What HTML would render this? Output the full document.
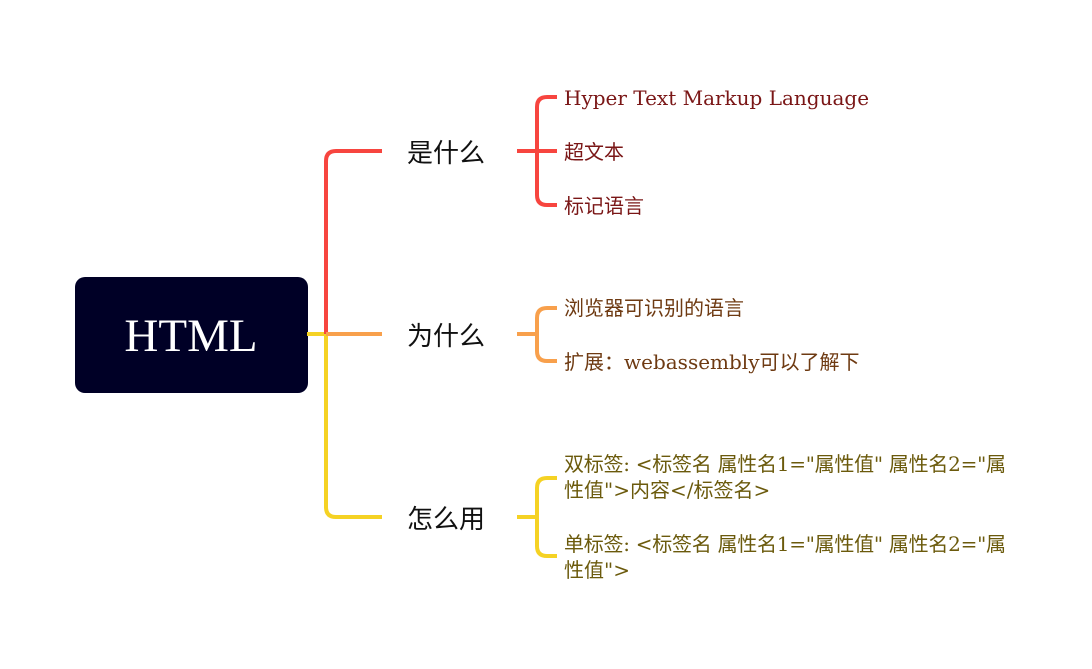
<!DOCTYPE html>
<html><head><meta charset="utf-8"><style>
html,body{margin:0;padding:0;background:#fff;width:1092px;height:669px;overflow:hidden}
</style></head><body>
<svg width="1092" height="669" xmlns="http://www.w3.org/2000/svg" font-family="'DejaVu Serif','Noto Sans CJK SC',serif">
<rect x="75" y="277" width="233" height="116" rx="10" fill="#000026"/>
<text x="191" y="351" text-anchor="middle" font-size="47" font-family="'Liberation Serif',serif" fill="#fff">HTML</text>
<g fill="none" stroke-width="4" stroke-linecap="butt">
<path d="M307 334 H326" stroke="#f5d224"/>
<path d="M382 151 H336 Q326 151 326 161 V334" stroke="#f7453f"/>
<path d="M326 334 V507 Q326 517 336 517 H382" stroke="#f5d224"/>
<path d="M326 334 H382" stroke="#f8a04c"/>
<path d="M517 151 H537 M557 97 H547 Q537 97 537 107 V195 Q537 205 547 205 H557 M537 151 H557" stroke="#f7453f"/>
<path d="M517 334 H537 M557 308 H547 Q537 308 537 318 V351 Q537 361 547 361 H557" stroke="#f8a04c"/>
<path d="M517 517 H537 M557 478 H547 Q537 478 537 488 V546 Q537 556 547 556 H557" stroke="#f5d224"/>
</g>
<g font-family="'Liberation Sans','Noto Sans CJK SC',sans-serif" font-size="26" fill="#111">
<text x="407" y="162">是什么</text>
<text x="407" y="345">为什么</text>
<text x="407" y="528">怎么用</text>
</g>
<g font-size="20" fill="#7a1616">
<text x="564" y="105">Hyper Text Markup Language</text>
<text x="564" y="159">超文本</text>
<text x="564" y="213">标记语言</text>
</g>
<g font-size="20" fill="#6e3a12">
<text x="564" y="315">浏览器可识别的语言</text>
<text x="564" y="369">扩展：webassembly可以了解下</text>
</g>
<g font-size="20" fill="#6b5a0c">
<text x="564" y="471" textLength="442">双标签: &lt;标签名 属性名1="属性值" 属性名2="属</text>
<text x="564" y="497">性值"&gt;内容&lt;/标签名&gt;</text>
<text x="564" y="551" textLength="442">单标签: &lt;标签名 属性名1="属性值" 属性名2="属</text>
<text x="564" y="577">性值"&gt;</text>
</g>
</svg>
</body></html>
